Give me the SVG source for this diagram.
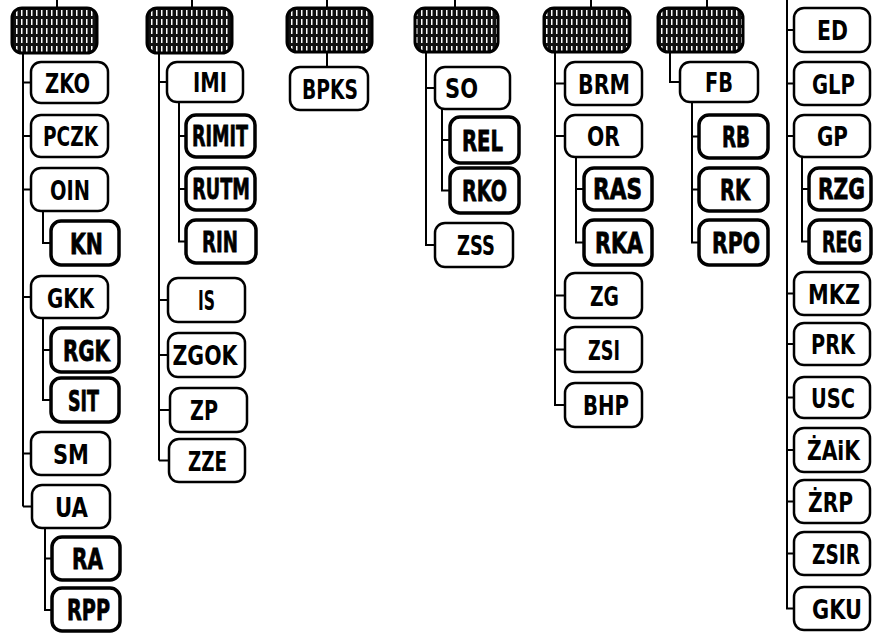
<svg xmlns="http://www.w3.org/2000/svg" width="873" height="633" viewBox="0 0 873 633">
<defs>
<pattern id="hatch" width="5" height="9" patternUnits="userSpaceOnUse">
<rect width="5" height="9" fill="#111"/>
<rect x="1" y="1" width="1.5" height="6" fill="#fff"/>
</pattern>
<style>
.hd{fill:url(#hatch);stroke:#000;stroke-width:3}
.n1{fill:#fff;stroke:#000;stroke-width:2.5}
.n2{fill:#fff;stroke:#000;stroke-width:3.5}
.t{font-family:"DejaVu Sans","Liberation Sans",sans-serif;font-weight:bold;font-size:27px;text-anchor:middle;fill:#000}
.t2{font-family:"DejaVu Sans","Liberation Sans",sans-serif;font-weight:900;font-size:28px;text-anchor:middle;fill:#000;stroke:#000;stroke-width:0.8}
#conn path{fill:none;stroke:#000;stroke-width:2}
</style>
</defs>
<rect width="873" height="633" fill="#fff"/>
<g id="conn">
<path d="M57 0V8M23 53V506.5M23 82.5H31M23 136H31M23 189.5H31M23 297H31M23 453.5H31M23 506.5H32M43 211V243H51M43 318V400H51M43 350H51M45 528V610H52M45 558.5H52"/>
<path d="M192 0V8M159 53V460.5M159 82H167M159 300H168M159 355H168M159 410H170M159 460.5H169M179 102V241.5H186M179 136H186M179 189H186"/>
<path d="M327 0V8M327 52V67"/>
<path d="M455 0V8M426 52V245H435M426 88H435M442 109V190.5H450M442 140H450"/>
<path d="M591 0V8M555 52V405H565M555 83.5H565M555 136H565M555 295.5H565M555 349.5H565M576 157V242.5H584M576 189H584"/>
<path d="M707 0V8M670 52V82H680M692 102V242.5H699M692 136.5H699M692 189.5H699"/>
<path d="M787 0V608.5H794M787 30H794M787 83.5H794M787 136H794M787 293.5H794M787 344H794M787 397.5H794M787 450H794M787 501.5H794M787 553.5H794M802 157V241.5H809M802 189H809"/>
</g>
<g id="h1"><rect class="hd" x="12" y="8" width="85" height="45" rx="10"/></g>
<g id="h2"><rect class="hd" x="147" y="8" width="85" height="45" rx="10"/></g>
<g id="h3"><rect class="hd" x="287" y="8" width="85" height="44" rx="10"/></g>
<g id="h4"><rect class="hd" x="415" y="8" width="83" height="44" rx="10"/></g>
<g id="h5"><rect class="hd" x="544" y="8" width="86" height="44" rx="10"/></g>
<g id="h6"><rect class="hd" x="658" y="8" width="85" height="44" rx="10"/></g>

<g id="ZKO"><rect class="n1" x="31" y="62" width="77" height="41" rx="10"/><text class="t" transform="translate(67.5 93) scale(.75 1)" textLength="60" lengthAdjust="spacingAndGlyphs">ZKO</text></g>
<g id="PCZK"><rect class="n1" x="31" y="115" width="77" height="42" rx="10"/><text class="t" transform="translate(70.5 146) scale(.75 1)" textLength="73.3" lengthAdjust="spacingAndGlyphs">PCZK</text></g>
<g id="OIN"><rect class="n1" x="31" y="168" width="77" height="43" rx="10"/><text class="t" transform="translate(70 200) scale(.75 1)" textLength="53.3" lengthAdjust="spacingAndGlyphs">OIN</text></g>
<g id="KN"><rect class="n2" x="51" y="221" width="68" height="44" rx="10"/><text class="t2" transform="translate(86.5 254) scale(.75 1)" textLength="44" lengthAdjust="spacingAndGlyphs">KN</text></g>
<g id="GKK"><rect class="n1" x="31" y="276" width="77" height="42" rx="10"/><text class="t" transform="translate(70.5 308) scale(.75 1)" textLength="62.7" lengthAdjust="spacingAndGlyphs">GKK</text></g>
<g id="RGK"><rect class="n2" x="51" y="328" width="68" height="44" rx="10"/><text class="t2" transform="translate(86.5 361) scale(.75 1)" textLength="62.7" lengthAdjust="spacingAndGlyphs">RGK</text></g>
<g id="SIT"><rect class="n2" x="51" y="378" width="68" height="44" rx="10"/><text class="t2" transform="translate(83.5 411) scale(.75 1)" textLength="41.3" lengthAdjust="spacingAndGlyphs">SIT</text></g>
<g id="SM"><rect class="n1" x="31" y="432" width="79" height="43" rx="10"/><text class="t" transform="translate(71 464) scale(.75 1)" textLength="48" lengthAdjust="spacingAndGlyphs">SM</text></g>
<g id="UA"><rect class="n1" x="32" y="485" width="78" height="43" rx="10"/><text class="t" transform="translate(71.5 517) scale(.75 1)" textLength="44" lengthAdjust="spacingAndGlyphs">UA</text></g>
<g id="RA"><rect class="n2" x="52" y="537" width="68" height="43" rx="10"/><text class="t2" transform="translate(87.5 569) scale(.75 1)" textLength="41.3" lengthAdjust="spacingAndGlyphs">RA</text></g>
<g id="RPP"><rect class="n2" x="52" y="588" width="68" height="43" rx="10"/><text class="t2" transform="translate(88.5 620) scale(.75 1)" textLength="57.3" lengthAdjust="spacingAndGlyphs">RPP</text></g>

<g id="IMI"><rect class="n1" x="167" y="62" width="76" height="40" rx="10"/><text class="t" transform="translate(210 92) scale(.75 1)" textLength="45.3" lengthAdjust="spacingAndGlyphs">IMI</text></g>
<g id="RIMIT"><rect class="n2" x="186" y="115" width="69" height="42" rx="10"/><text class="t2" transform="translate(220 146) scale(.75 1)" textLength="74.7" lengthAdjust="spacingAndGlyphs">RIMIT</text></g>
<g id="RUTM"><rect class="n2" x="186" y="168" width="69" height="42" rx="10"/><text class="t2" transform="translate(221 199) scale(.75 1)" textLength="77" lengthAdjust="spacingAndGlyphs">RUTM</text></g>
<g id="RIN"><rect class="n2" x="186" y="220" width="70" height="43" rx="10"/><text class="t2" transform="translate(220 252) scale(.75 1)" textLength="48" lengthAdjust="spacingAndGlyphs">RIN</text></g>
<g id="IS"><rect class="n1" x="168" y="278" width="77" height="44" rx="10"/><text class="t" transform="translate(206.5 310) scale(.75 1)" textLength="22.7" lengthAdjust="spacingAndGlyphs">IS</text></g>
<g id="ZGOK"><rect class="n1" x="168" y="333" width="77" height="44" rx="10"/><text class="t" transform="translate(205 365) scale(.75 1)" textLength="86.7" lengthAdjust="spacingAndGlyphs">ZGOK</text></g>
<g id="ZP"><rect class="n1" x="170" y="388" width="77" height="44" rx="10"/><text class="t" transform="translate(204 420) scale(.75 1)" textLength="37.3" lengthAdjust="spacingAndGlyphs">ZP</text></g>
<g id="ZZE"><rect class="n1" x="169" y="439" width="76" height="43" rx="10"/><text class="t" transform="translate(207.5 471) scale(.75 1)" textLength="52" lengthAdjust="spacingAndGlyphs">ZZE</text></g>

<g id="BPKS"><rect class="n1" x="290" y="67" width="78" height="43" rx="10"/><text class="t" transform="translate(330 99) scale(.75 1)" textLength="74.7" lengthAdjust="spacingAndGlyphs">BPKS</text></g>

<g id="SO"><rect class="n1" x="435" y="67" width="75" height="42" rx="10"/><text class="t" transform="translate(461.5 98) scale(.75 1)" textLength="44" lengthAdjust="spacingAndGlyphs">SO</text></g>
<g id="REL"><rect class="n2" x="450" y="117" width="69" height="46" rx="10"/><text class="t2" transform="translate(482.5 151) scale(.75 1)" textLength="54.7" lengthAdjust="spacingAndGlyphs">REL</text></g>
<g id="RKO"><rect class="n2" x="450" y="168" width="69" height="45" rx="10"/><text class="t2" transform="translate(484.5 201) scale(.75 1)" textLength="60" lengthAdjust="spacingAndGlyphs">RKO</text></g>
<g id="ZSS"><rect class="n1" x="435" y="223" width="78" height="44" rx="10"/><text class="t" transform="translate(476 255) scale(.75 1)" textLength="50.7" lengthAdjust="spacingAndGlyphs">ZSS</text></g>

<g id="BRM"><rect class="n1" x="565" y="62" width="77" height="43" rx="10"/><text class="t" transform="translate(604 94) scale(.75 1)" textLength="69.3" lengthAdjust="spacingAndGlyphs">BRM</text></g>
<g id="OR"><rect class="n1" x="565" y="115" width="77" height="42" rx="10"/><text class="t" transform="translate(603.5 146) scale(.75 1)" textLength="44" lengthAdjust="spacingAndGlyphs">OR</text></g>
<g id="RAS"><rect class="n2" x="584" y="168" width="68" height="42" rx="10"/><text class="t2" transform="translate(617.5 199) scale(.75 1)" textLength="65.3" lengthAdjust="spacingAndGlyphs">RAS</text></g>
<g id="RKA"><rect class="n2" x="584" y="220" width="68" height="45" rx="10"/><text class="t2" transform="translate(619 253) scale(.75 1)" textLength="64" lengthAdjust="spacingAndGlyphs">RKA</text></g>
<g id="ZG"><rect class="n1" x="565" y="273" width="77" height="45" rx="10"/><text class="t" transform="translate(604.5 306) scale(.75 1)" textLength="38.7" lengthAdjust="spacingAndGlyphs">ZG</text></g>
<g id="ZSI"><rect class="n1" x="565" y="327" width="77" height="45" rx="10"/><text class="t" transform="translate(604 360) scale(.75 1)" textLength="42.7" lengthAdjust="spacingAndGlyphs">ZSI</text></g>
<g id="BHP"><rect class="n1" x="565" y="383" width="77" height="44" rx="10"/><text class="t" transform="translate(606 415) scale(.75 1)" textLength="61.3" lengthAdjust="spacingAndGlyphs">BHP</text></g>

<g id="FB"><rect class="n1" x="680" y="62" width="78" height="40" rx="10"/><text class="t" transform="translate(719 92) scale(.75 1)" textLength="37.3" lengthAdjust="spacingAndGlyphs">FB</text></g>
<g id="RB"><rect class="n2" x="699" y="115" width="69" height="43" rx="10"/><text class="t2" transform="translate(736 147) scale(.75 1)" textLength="37.3" lengthAdjust="spacingAndGlyphs">RB</text></g>
<g id="RK"><rect class="n2" x="699" y="168" width="69" height="43" rx="10"/><text class="t2" transform="translate(735 200) scale(.75 1)" textLength="40" lengthAdjust="spacingAndGlyphs">RK</text></g>
<g id="RPO"><rect class="n2" x="699" y="220" width="69" height="45" rx="10"/><text class="t2" transform="translate(736 253) scale(.75 1)" textLength="64" lengthAdjust="spacingAndGlyphs">RPO</text></g>

<g id="ED"><rect class="n1" x="794" y="8" width="76" height="44" rx="10"/><text class="t" transform="translate(832.5 40) scale(.75 1)" textLength="41.3" lengthAdjust="spacingAndGlyphs">ED</text></g>
<g id="GLP"><rect class="n1" x="794" y="62" width="76" height="43" rx="10"/><text class="t" transform="translate(833.5 94) scale(.75 1)" textLength="57.3" lengthAdjust="spacingAndGlyphs">GLP</text></g>
<g id="GP"><rect class="n1" x="794" y="115" width="76" height="42" rx="10"/><text class="t" transform="translate(832.5 146) scale(.75 1)" textLength="41.3" lengthAdjust="spacingAndGlyphs">GP</text></g>
<g id="RZG"><rect class="n2" x="809" y="168" width="62" height="42" rx="10"/><text class="t2" transform="translate(841.5 199) scale(.75 1)" textLength="62.7" lengthAdjust="spacingAndGlyphs">RZG</text></g>
<g id="REG"><rect class="n2" x="809" y="220" width="62" height="43" rx="10"/><text class="t2" transform="translate(842 252) scale(.75 1)" textLength="53.3" lengthAdjust="spacingAndGlyphs">REG</text></g>
<g id="MKZ"><rect class="n1" x="794" y="272" width="76" height="43" rx="10"/><text class="t" transform="translate(834 304) scale(.75 1)" textLength="69.3" lengthAdjust="spacingAndGlyphs">MKZ</text></g>
<g id="PRK"><rect class="n1" x="794" y="323" width="76" height="42" rx="10"/><text class="t" transform="translate(833 354) scale(.75 1)" textLength="58.7" lengthAdjust="spacingAndGlyphs">PRK</text></g>
<g id="USC"><rect class="n1" x="794" y="377" width="76" height="41" rx="10"/><text class="t" transform="translate(833 408) scale(.75 1)" textLength="58.7" lengthAdjust="spacingAndGlyphs">USC</text></g>
<g id="ZAiK"><rect class="n1" x="794" y="428" width="76" height="44" rx="10"/><text class="t" transform="translate(833.5 460) scale(.75 1)" textLength="70.7" lengthAdjust="spacingAndGlyphs">ŻAiK</text></g>
<g id="ZRP"><rect class="n1" x="794" y="480" width="76" height="43" rx="10"/><text class="t" transform="translate(830.5 512) scale(.75 1)" textLength="60" lengthAdjust="spacingAndGlyphs">ŻRP</text></g>
<g id="ZSIR"><rect class="n1" x="794" y="532" width="76" height="43" rx="10"/><text class="t" transform="translate(836 564) scale(.75 1)" textLength="64" lengthAdjust="spacingAndGlyphs">ZSIR</text></g>
<g id="GKU"><rect class="n1" x="794" y="587" width="76" height="43" rx="10"/><text class="t" transform="translate(837 619) scale(.75 1)" textLength="66.7" lengthAdjust="spacingAndGlyphs">GKU</text></g>
</svg>
